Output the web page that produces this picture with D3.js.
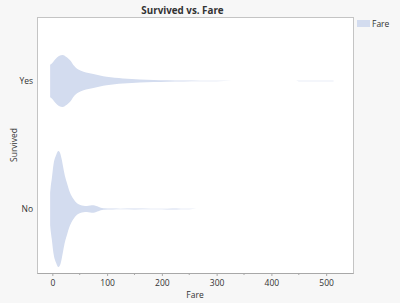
<!DOCTYPE html>
<html><head><meta charset="utf-8">
<script src="https://cdn.jsdelivr.net/npm/d3@7"></script>
<style>
html,body{margin:0;padding:0;background:#f7f7f7;}
svg{display:block;}
text{font-family:"Open Sans","Noto Sans",sans-serif;fill:#333;}
</style></head><body>
<svg id="c" width="400" height="303"></svg>
<script>
const title = "Survived vs. Fare";
const xTitle = "Fare";
const yTitle = "Survived";
const categories = ["Yes", "No"];
const xTicks = [0, 100, 200, 300, 400, 500];
const xMinorTicks = [50, 150, 250, 350, 450, 550];
// kernel-density outline: fare grid and relative density
const yesFare = [-4,0,5,12,19,25,29,34,38,43,47.5,57,66,75,87,99,114,129,145,160,185,209,240,270,300,328,335,445,450,480,512,514];
const yesDensity = [0.28,0.31,0.37,0.43,0.45,0.42,0.39,0.34,0.28,0.23,0.20,0.16,0.14,0.12,0.095,0.074,0.057,0.045,0.033,0.025,0.018,0.013,0.009,0.006,0.004,0.002,0,0,0.004,0.006,0.005,0];
const noFare = [-4,-3,-1,2,7,11,14,17,20,23,26,32,38,45,51,57,63,69,75,80,84,93,110,124,150,180,200,219,235,250,263,265];
const noDensity = [0.28,0.38,0.52,0.76,0.93,1.0,0.97,0.86,0.71,0.57,0.47,0.29,0.18,0.10,0.07,0.057,0.052,0.06,0.064,0.052,0.04,0.014,0.008,0.006,0.008,0.004,0.004,0.010,0.006,0.004,0.002,0];
const legendLabel = "Fare";
const fillColor = "#d3dcef";

const svg = d3.select("#c");
const L = 37, R = 353, T = 17, B = 273;
const x = d3.scaleLinear().domain([-28, 549]).range([L, R]);
const y = d3.scaleBand().domain(categories).range([T, B]);
const w = d3.scaleLinear().domain([0, 1]).range([0, 58]);

svg.append("rect").attr("x", L).attr("y", T).attr("width", R - L).attr("height", B - T)
  .attr("fill", "#fff").attr("stroke", "#c4c4c4").attr("stroke-width", 1)
  .attr("shape-rendering", "crispEdges");

const series = [
  {cat: "Yes", fare: yesFare, dens: yesDensity},
  {cat: "No", fare: noFare, dens: noDensity}
];
series.forEach(s => {
  const cy = y(s.cat) + y.bandwidth() / 2;
  const pts = s.fare.map((f, i) => [f, s.dens[i]]);
  const area = d3.area()
    .x(d => x(d[0]))
    .y0(d => cy - w(d[1]))
    .y1(d => cy + w(d[1]))
    .curve(d3.curveMonotoneX);
  svg.append("path").attr("d", area(pts)).attr("fill", fillColor);
});

// x axis
const xAxis = d3.axisBottom(x).tickValues(xTicks).tickSizeInner(3).tickSizeOuter(0).tickPadding(4);
const gx = svg.append("g").attr("transform", `translate(0,${B})`).call(xAxis);
gx.select(".domain").attr("stroke", "#a8a8a8");
gx.selectAll(".tick line").attr("stroke", "#a8a8a8");
gx.selectAll(".tick text").attr("font-size", 8.5).attr("fill", "#333")
  .attr("font-family", "'Open Sans',sans-serif");
const minor = svg.append("g").attr("transform", `translate(0,${B})`);
minor.selectAll("line").data(xMinorTicks.filter(v => x(v) <= R)).join("line")
  .attr("x1", d => x(d)).attr("x2", d => x(d)).attr("y1", 0).attr("y2", 2)
  .attr("stroke", "#a8a8a8");

// y axis labels
const gy = svg.append("g").attr("transform", `translate(${L},0)`)
  .call(d3.axisLeft(y).tickSize(0).tickPadding(4));
gy.select(".domain").remove();
gy.selectAll(".tick text").attr("font-size", 8.5).attr("fill", "#333")
  .attr("font-family", "'Open Sans',sans-serif");

svg.append("text").attr("x", 182.5).attr("y", 14).attr("text-anchor", "middle")
  .attr("font-size", 9.8).attr("font-weight", "bold").attr("fill", "#111").text(title);
svg.append("text").attr("x", (L + R) / 2).attr("y", 298).attr("text-anchor", "middle")
  .attr("font-size", 8.5).text(xTitle);
svg.append("text").attr("transform", `translate(17,${(T + B) / 2}) rotate(-90)`)
  .attr("text-anchor", "middle").attr("font-size", 8.5).text(yTitle);

// legend
svg.append("rect").attr("x", 357).attr("y", 20).attr("width", 13).attr("height", 7).attr("fill", fillColor);
svg.append("text").attr("x", 372).attr("y", 26.5).attr("font-size", 8.5).text(legendLabel);
</script>
</body></html>
